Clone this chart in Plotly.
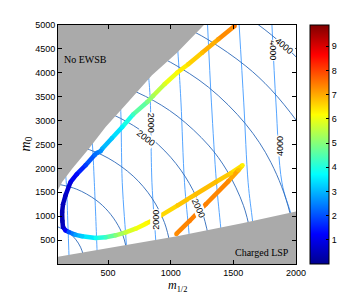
import plotly.graph_objects as go
from plotly.colors import sample_colorscale

# ---------------- data ----------------
# thick coloured curve: m_1/2, m_0, colour value
curve_m12 = [1510, 1380, 1250, 1140, 1050, 950, 860, 813, 700, 613, 530, 453, 440, 414, 394,
             320, 250, 200, 160, 140, 133, 135, 140, 160, 186, 240, 293, 400, 480, 560, 640,
             720, 800, 880, 1056, 1200, 1360, 1480, 1573, 1540, 1460, 1280, 1150, 1045]
curve_m0 = [4980, 4700, 4420, 4180, 4000, 3760, 3520, 3390, 3130, 2866, 2630, 2412, 2360, 2328, 2287,
            2065, 1880, 1715, 1436, 1250, 1088, 900, 774, 700, 669, 610, 579, 544, 560, 600, 660,
            739, 840, 948, 1228, 1460, 1715, 1900, 2065, 1960, 1730, 1250, 900, 630]
curve_val = [7.5, 7.1, 6.8, 6.5, 6.2, 5.8, 5.3, 4.9, 4.3, 3.6, 3.2, 2.9, 2.6, 2.4, 2.3,
             1.8, 1.3, 0.9, 0.6, 0.5, 0.4, 0.4, 0.6, 1.2, 2.0, 2.8, 3.2, 3.8, 4.3, 5.0, 5.6,
             6.0, 6.2, 6.4, 6.7, 6.8, 6.8, 6.6, 6.3, 6.8, 7.3, 7.4, 7.4, 7.3]

# light-blue (near vertical) contours
lb_lines = {
    500:  ([150, 165, 178, 190], [2100, 1750, 900, 0]),
    1000: ([360, 373, 390, 413, 416], [2800, 2550, 1700, 200, 0]),
    1500: ([590, 600, 613, 646, 655], [3500, 3250, 1700, 400, 0]),
    2000: ([815, 826, 837, 850, 880, 890], [4100, 3840, 3390, 1700, 500, 0]),
    2500: ([1050, 1066, 1082, 1110, 1146, 1165], [4700, 4090, 3370, 1700, 640, 0]),
    3000: ([1294, 1325, 1365, 1400, 1425], [5000, 3370, 1700, 740, 0]),
    3500: ([1546, 1583, 1618, 1654, 1690], [5000, 3370, 1700, 880, 0]),
    4000: ([1808, 1840, 1888, 1960, 2010], [5000, 3370, 1700, 1050, 600]),
}

# dark-blue (arc) contours
db_lines = {
    500:  ([100, 180, 240, 280, 300, 305, 310], [776, 668, 519, 352, 207, 147, 0]),
    1000: ([100, 250, 400, 500, 580, 630, 660], [1670, 1564, 1344, 1103, 807, 504, 0]),
    1500: ([100, 300, 500, 700, 850, 950, 1000], [2537, 2435, 2216, 1839, 1378, 866, 360]),
    2000: ([100, 400, 600, 800, 1000, 1150, 1250, 1300], [3410, 3259, 3046, 2721, 2232, 1679, 1098, 592]),
    2500: ([100, 500, 800, 1050, 1300, 1450, 1580, 1640], [3993, 3814, 3505, 3098, 2488, 1947, 1227, 620]),
    3000: ([100, 500, 800, 1000, 1300, 1600, 1800, 1950, 2000], [4858, 4715, 4463, 4218, 3701, 2922, 2123, 1082, 0]),
    3500: ([900, 1100, 1300, 1600, 1800, 2000, 2100], [5188, 4968, 4690, 4140, 3651, 3012, 2606]),
    4000: ([1500, 1700, 1900, 2000, 2100], [5352, 5004, 4581, 4335, 4061]),
}

# excluded regions
ewsb_m12 = [0, 100, 133, 213, 346, 480, 660, 850, 1050, 1265, 1265, 0]
ewsb_m0 = [1550, 1550, 1715, 1994, 2412, 2866, 3390, 3950, 4420, 5000, 5300, 5300]
lsp_m12 = [0, 100, 1050, 1570, 2000, 2100, 2100, 0]
lsp_m0 = [100, 150, 580, 850, 1100, 1150, -200, -200]

# contour labels: (text, m12, m0, angle)
lb_labels = [("2000", 844, 2950, 90), ("2000", 880, 920, -90),
             ("4000", 1814, 4477, 90), ("4000", 1872, 2469, -90)]
db_labels = [("2000", 800, 2640, 38), ("2000", 1222, 1180, 66), ("4000", 1904, 4560, 40)]

x_ticks = [500, 1000, 1500, 2000]
y_ticks = [500, 1000, 1500, 2000, 2500, 3000, 3500, 4000, 4500, 5000]
cb_ticks = [1, 2, 3, 4, 5, 6, 7, 8, 9]
cmin, cmax = 0, 9.88

jet = [[0, 'rgb(0,0,143)'], [0.125, 'rgb(0,0,255)'], [0.375, 'rgb(0,255,255)'],
       [0.625, 'rgb(255,255,0)'], [0.875, 'rgb(255,0,0)'], [1, 'rgb(128,0,0)']]

LB = 'rgb(85,165,255)'
DB = 'rgb(45,105,185)'
GRAY = 'rgb(170,170,170)'

fig = go.Figure()

for lvl, (xs, ys) in lb_lines.items():
    fig.add_trace(go.Scatter(x=xs, y=ys, mode='lines', line=dict(color=LB, width=1, shape='spline'),
                             hoverinfo='skip', showlegend=False))
for lvl, (xs, ys) in db_lines.items():
    fig.add_trace(go.Scatter(x=xs, y=ys, mode='lines', line=dict(color=DB, width=0.9, shape='spline'),
                             hoverinfo='skip', showlegend=False))

fig.add_trace(go.Scatter(x=ewsb_m12, y=ewsb_m0, mode='lines', fill='toself', fillcolor=GRAY,
                         line=dict(width=0, color=GRAY), hoverinfo='skip', showlegend=False))
fig.add_trace(go.Scatter(x=lsp_m12, y=lsp_m0, mode='lines', fill='toself', fillcolor=GRAY,
                         line=dict(width=0, color=GRAY), hoverinfo='skip', showlegend=False))

for i in range(len(curve_m12) - 1):
    v = 0.5 * (curve_val[i] + curve_val[i + 1])
    c = sample_colorscale(jet, [(v - cmin) / (cmax - cmin)])[0]
    fig.add_trace(go.Scatter(x=curve_m12[i:i + 2], y=curve_m0[i:i + 2], mode='lines',
                             line=dict(color=c, width=4.5), hoverinfo='skip', showlegend=False))

fig.add_trace(go.Scatter(
    x=curve_m12, y=curve_m0, mode='markers',
    marker=dict(size=4.5, color=curve_val, colorscale=jet, cmin=cmin, cmax=cmax, line=dict(width=0),
                colorbar=dict(x=1.059, xanchor='left', y=0.5, yanchor='middle', len=1, lenmode='fraction',
                              thickness=19, xpad=0, ypad=0, outlinewidth=1, outlinecolor='black',
                              tickvals=cb_ticks, ticks='inside', ticklen=3, tickcolor='black',
                              tickfont=dict(family='Liberation Sans', size=9, color='black'))),
    hoverinfo='skip', showlegend=False))

ann = []
for t, x, y, a in lb_labels + db_labels:
    ann.append(dict(x=x, y=y, xref='x', yref='y', text=t, showarrow=False, textangle=a,
                    font=dict(family='Liberation Sans', size=9, color='black'),
                    bgcolor='white', borderpad=0))
ann.append(dict(x=133, y=4282, xref='x', yref='y', text='No EWSB', showarrow=False, xanchor='left',
                font=dict(family='Liberation Serif', size=10, color='black')))
ann.append(dict(x=1960, y=240, xref='x', yref='y', text='Charged LSP', showarrow=False, xanchor='right',
                font=dict(family='Liberation Serif', size=10, color='black')))
ann.append(dict(x=0.5, y=0, xref='paper', yref='paper', yshift=-12, yanchor='top',
                text='<i>m</i><sub>1/2</sub>', showarrow=False,
                font=dict(family='Liberation Serif', size=12, color='black')))
ann.append(dict(x=0, y=0.5, xref='paper', yref='paper', xshift=-32, xanchor='center',
                text='<i>m</i><sub>0</sub>', showarrow=False, textangle=-90,
                font=dict(family='Liberation Serif', size=14, color='black')))

axis_common = dict(showgrid=False, zeroline=False, showline=True, linecolor='black', linewidth=1,
                   mirror='ticks', ticks='inside', ticklen=4, tickcolor='black',
                   tickfont=dict(family='Liberation Sans', size=9, color='black'))

# page body has an 8px margin, so the figure is 8px smaller than the window in each direction
fig.update_layout(
    width=346, height=286, margin=dict(l=50, r=58, t=17, b=30),
    paper_bgcolor='white', plot_bgcolor='white',
    xaxis=dict(range=[100, 2000], tickvals=x_ticks, **axis_common),
    yaxis=dict(range=[0, 5000], tickvals=y_ticks, **axis_common),
    annotations=ann,
)

fig.write_html("out.html")
